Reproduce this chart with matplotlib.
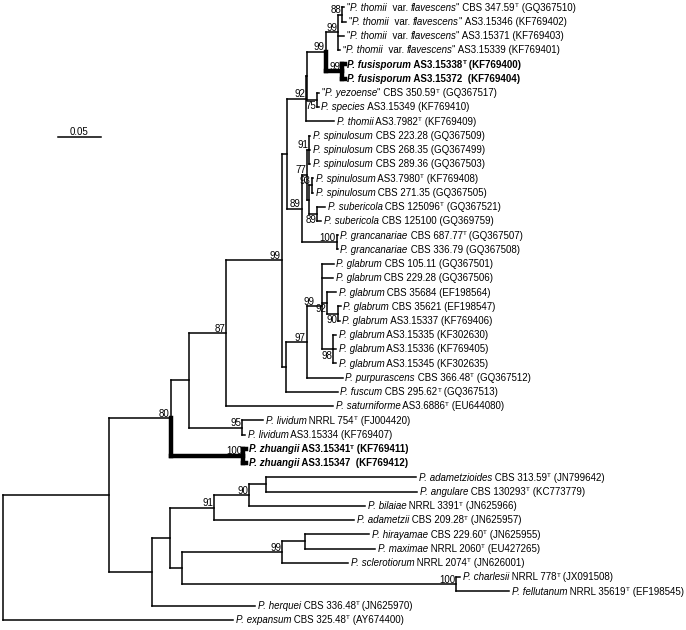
import re
import matplotlib
matplotlib.use('Agg')
import matplotlib.pyplot as plt
from matplotlib.collections import LineCollection

plt.rcParams['font.family'] = ['Liberation Sans', 'DejaVu Sans']

# Tree in Newick pieces. Branch lengths = substitutions per site,
# internal labels = bootstrap (%); a trailing "v" prints the value under the node
fusisporum_grp = ("(((t1:0.0023,t2:0.0047)88:0.0047,t3:0.0070,t4:0.0023)99:0.0143,"
                  "(fus1:0.0035,fus2:0.0035)99:0.0186)99")
thomii_grp = f"(({fusisporum_grp}:0.0212,(yez:0.0023,spe:0.0023)75v:0.0110):0.0017,tho:0.0326)92"
spinulosum_grp = ("(((sp1:0.0014,sp2:0.0014,sp3:0.0014)91:0.0023,((sp4:0.0017,sp5:0.0017)93:0.0037,"
                  "(sb1:0.0090,sb2:0.0049)89v:0.0102):0.0014)77:0.0065,(gr1:0.0012,gr2:0.0012)100:0.0407)89")
glabrum_grp = ("(((g1:0.0134,g2:0.0128,(g3:0.0105,(g4:0.0029,g5:0.0017)90v:0.0128)92v:0.0058,"
               "(g6:0.0035,g7:0.0035,g8:0.0035)98v:0.0128)99:0.0178,pur:0.0416)97:0.0244,fsc:0.0602)")
aspergilloides = f"((({thomii_grp}:0.0217,{spinulosum_grp}:0.0167):0.0065,{glabrum_grp}:0.0047)99:0.0648,sat:0.1244)87"
ingroup = f"(({aspergilloides}:0.0430,(lv1:0.0244,lv2:0.0035)95:0.0616):0.0213,(zh1:0.0035,zh2:0.0035)100:0.0841)80"
outgroups = ("((((adz:0.1748,ang:0.1759):0.0194,bil:0.1349)90:0.0403,adt:0.1624)91:0.0515,"
             "(((hir:0.0744,max:0.0814):0.0267,scl:0.0767)99:0.1166,(cha:0.0047,fel:0.0616)100:0.3190):0.0136)")
newick = f"(({ingroup}:0.0714,({outgroups}:0.0213,her:0.1201):0.0493):0.1233,exp:0.2671);"

# taxon labels: *...* = italic, ^T = superscript T (type strain)
taxa = {
    't1': '"*P. thomii*  var. *flavescens*" CBS 347.59^T (GQ367510)',
    't2': '"*P. thomii*  var. *flavescens*" AS3.15346 (KF769402)',
    't3': '"*P. thomii*  var. *flavescens*" AS3.15371 (KF769403)',
    't4': '"*P. thomii*  var. *flavescens*" AS3.15339 (KF769401)',
    'fus1': '*P. fusisporum* AS3.15338^T (KF769400)',
    'fus2': '*P. fusisporum* AS3.15372  (KF769404)',
    'yez': '"*P. yezoense*" CBS 350.59^T (GQ367517)',
    'spe': '*P. species* AS3.15349 (KF769410)',
    'tho': '*P. thomii* AS3.7982^T (KF769409)',
    'sp1': '*P. spinulosum* CBS 223.28 (GQ367509)',
    'sp2': '*P. spinulosum* CBS 268.35 (GQ367499)',
    'sp3': '*P. spinulosum* CBS 289.36 (GQ367503)',
    'sp4': '*P. spinulosum* AS3.7980^T (KF769408)',
    'sp5': '*P. spinulosum* CBS 271.35 (GQ367505)',
    'sb1': '*P. subericola* CBS 125096^T (GQ367521)',
    'sb2': '*P. subericola* CBS 125100 (GQ369759)',
    'gr1': '*P. grancanariae* CBS 687.77^T (GQ367507)',
    'gr2': '*P. grancanariae* CBS 336.79 (GQ367508)',
    'g1': '*P. glabrum* CBS 105.11 (GQ367501)',
    'g2': '*P. glabrum* CBS 229.28 (GQ367506)',
    'g3': '*P. glabrum* CBS 35684 (EF198564)',
    'g4': '*P. glabrum* CBS 35621 (EF198547)',
    'g5': '*P. glabrum* AS3.15337 (KF769406)',
    'g6': '*P. glabrum* AS3.15335 (KF302630)',
    'g7': '*P. glabrum* AS3.15336 (KF769405)',
    'g8': '*P. glabrum* AS3.15345 (KF302635)',
    'pur': '*P. purpurascens* CBS 366.48^T (GQ367512)',
    'fsc': '*P. fuscum* CBS 295.62^T (GQ367513)',
    'sat': '*P. saturniforme* AS3.6886^T (EU644080)',
    'lv1': '*P. lividum* NRRL 754^T (FJ004420)',
    'lv2': '*P. lividum* AS3.15334 (KF769407)',
    'zh1': '*P. zhuangii* AS3.15341^T (KF769411)',
    'zh2': '*P. zhuangii* AS3.15347  (KF769412)',
    'adz': '*P. adametzioides* CBS 313.59^T (JN799642)',
    'ang': '*P. angulare* CBS 130293^T (KC773779)',
    'bil': '*P. bilaiae* NRRL 3391^T (JN625966)',
    'adt': '*P. adametzii* CBS 209.28^T (JN625957)',
    'hir': '*P. hirayamae* CBS 229.60^T (JN625955)',
    'max': '*P. maximae* NRRL 2060^T (EU427265)',
    'scl': '*P. sclerotiorum* NRRL 2074^T (JN626001)',
    'cha': '*P. charlesii* NRRL 778^T (JX091508)',
    'fel': '*P. fellutanum* NRRL 35619^T (EF198545)',
    'her': '*P. herquei* CBS 336.48^T (JN625970)',
    'exp': '*P. expansum* CBS 325.48^T (AY674400)',
}
new_species = ['fus1', 'fus2', 'zh1', 'zh2']   # drawn in bold
scale_len = 0.05


def parse(s):
    pos = 0

    def node():
        nonlocal pos
        n = {'children': [], 'name': '', 'len': 0.0}
        if s[pos] == '(':
            pos += 1
            while True:
                n['children'].append(node())
                if s[pos] == ',':
                    pos += 1
                    continue
                pos += 1
                break
        start = pos
        while s[pos] not in ':,();':
            pos += 1
        n['name'] = s[start:pos]
        if s[pos] == ':':
            pos += 1
            start = pos
            while s[pos] not in ',();':
                pos += 1
            n['len'] = float(s[start:pos])
        return n

    return node()


tree = parse(newick)
leaves = []


def layout(n, x0):
    n['x'] = x0 + n['len']
    if n['children']:
        for c in n['children']:
            layout(c, n['x'])
        n['y'] = (n['children'][0]['y'] + n['children'][-1]['y']) / 2
        n['bold'] = all(c['bold'] for c in n['children'])
    else:
        n['y'] = len(leaves)
        n['bold'] = n['name'] in new_species
        leaves.append(n)


layout(tree, 0.0)

fig = plt.figure(figsize=(6.86, 6.30), dpi=100)
ax = fig.add_axes([0, 0, 1, 1])
ax.set_xlim(-0.0038, 0.7938)
ax.set_ylim(43.72, -0.52)
ax.axis('off')

thin, thick, internal = [], [], []


def collect(n):
    if not n['children']:
        return
    internal.append(n)
    ys = [c['y'] for c in n['children']]
    (thick if n['bold'] else thin).append([(n['x'], min(ys)), (n['x'], max(ys))])
    for c in n['children']:
        (thick if c['bold'] else thin).append([(n['x'], c['y']), (c['x'], c['y'])])
        if c['bold'] and not n['bold']:
            thick.append([(n['x'], n['y']), (n['x'], c['y'])])
        collect(c)


collect(tree)
ax.add_collection(LineCollection(thin, colors='black', linewidths=1.1, capstyle='projecting'))
ax.add_collection(LineCollection(thick, colors='black', linewidths=3.2, capstyle='projecting'))

fs = 7.0
renderer = fig.canvas.get_renderer()
px = ax.transData.transform((1, 0))[0] - ax.transData.transform((0, 0))[0]
py = abs(ax.transData.transform((0, 1))[1] - ax.transData.transform((0, 0))[1])


def width(s, **kw):
    t = ax.text(0, 0, s + '|', **kw)
    w = t.get_window_extent(renderer).width
    t.remove()
    t = ax.text(0, 0, '|', **kw)
    w -= t.get_window_extent(renderer).width
    t.remove()
    return w / px


# taxon labels, built piece by piece (italic names, superscript T)
for lf in leaves:
    x = lf['x'] + 0.003
    y = lf['y'] + 3.3 / py
    weight = 'bold' if lf['bold'] else 'normal'
    for piece in re.split(r'(\*[^*]+\*|\^T)', taxa[lf['name']]):
        if not piece:
            continue
        if piece == '^T':
            kw = dict(fontsize=fs * 0.65, fontweight=weight)
            ax.text(x, y - 3.6 / py, 'T', va='baseline', ha='left', **kw)
            x += width('T', **kw)
            continue
        style = 'italic' if piece.startswith('*') else 'normal'
        piece = piece.strip('*')
        kw = dict(fontsize=fs, fontweight=weight, fontstyle=style)
        ax.text(x, y, piece, va='baseline', ha='left', **kw)
        x += width(piece, **kw)

# bootstrap values, left of each node
boot = []
for n in internal:
    if not n['name']:
        continue
    below = n['name'].endswith('v')
    val = n['name'].rstrip('v')
    if below:
        t = ax.text(n['x'] - 1.0 / px, n['y'] + 1.5 / py, val, ha='right', va='top', fontsize=fs)
    else:
        t = ax.text(n['x'] - 1.0 / px, n['y'] - 1.5 / py, val, ha='right', va='baseline', fontsize=fs)
    boot.append(t)

# push a value left when it runs into the one of a nested node
boot.sort(key=lambda t: -t.get_position()[0])
for i, a in enumerate(boot):
    for b in boot[i + 1:]:
        ba, bb = a.get_window_extent(renderer), b.get_window_extent(renderer)
        if bb.overlaps(ba):
            shift = (bb.x1 - ba.x0 + 0.5) / px
            bx, by = b.get_position()
            b.set_position((bx - shift, by))

# scale bar
sx, sy = 0.0636, 9.1
ax.plot([sx, sx + scale_len], [sy, sy], color='black', lw=1.1)
ax.text(sx + scale_len / 2, sy - 1.5 / py, f'{scale_len:.2f}', ha='center', va='baseline', fontsize=fs)

fig.savefig('out.png', dpi=100, facecolor='white')
